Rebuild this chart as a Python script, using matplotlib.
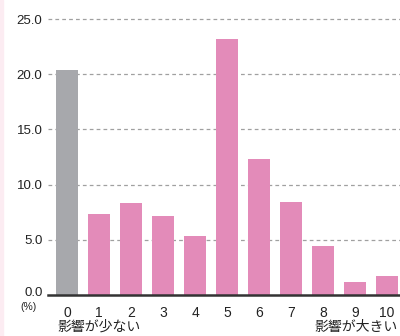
import numpy as np
import matplotlib
matplotlib.use('Agg')
import matplotlib.pyplot as plt
from matplotlib.patches import Rectangle
from matplotlib.transforms import ScaledTranslation

plt.rcParams['font.family'] = ['Liberation Sans', 'Noto Sans CJK JP']

# 影響度スコア別の割合 (%)
scores = ['0', '1', '2', '3', '4', '5', '6', '7', '8', '9', '10']
shares = [20.4, 7.3, 8.3, 7.2, 5.3, 23.2, 12.3, 8.4, 4.4, 1.2, 1.7]
y_ticks = [0, 5, 10, 15, 20, 25]
low_label = '影響が少ない'
high_label = '影響が大きい'

grey = '#a7a8ac'
pink = '#e38bb9'

W, H = 400, 336
fig = plt.figure(figsize=(W / 100, H / 100), dpi=100)

# 左端の淡いピンクの帯
fig.patches.append(Rectangle((0, 0), 3 / W, 1, transform=fig.transFigure,
                             color='#fcecf2', zorder=0))

ax = fig.add_axes([48 / W, (H - 295) / H, (400 - 48) / W, (295 - 8) / H])

x = np.arange(len(scores))
colors = [grey] + [pink] * (len(scores) - 1)
ax.bar(x, shares, width=0.6875, color=colors, zorder=2)

ax.set_xlim(-0.594, 10.406)
ax.set_ylim(0, 26)

ax.set_yticks(y_ticks)
ax.set_yticklabels([f'{v:.1f}' for v in y_ticks], fontsize=9.5, color='#222222')
ax.set_xticks(x)
ax.set_xticklabels(scores, fontsize=10, color='#222222')
ax.tick_params(axis='y', length=0, pad=4)
ax.tick_params(axis='x', length=0, pad=8)

# 0.0 のラベルは基線より少し上に
zero_lbl = ax.get_yticklabels()[0]
zero_lbl.set_transform(zero_lbl.get_transform() + ScaledTranslation(0, 3 / 100, fig.dpi_scale_trans))

for v in y_ticks[1:]:
    ax.axhline(v, color='#a0a0a0', lw=0.9, ls=(0, (3, 2.5)), zorder=1)

for s in ['top', 'right', 'left']:
    ax.spines[s].set_visible(False)
ax.spines['bottom'].set_color('#333333')
ax.spines['bottom'].set_linewidth(1.8)
ax.spines['bottom'].set_zorder(3)

fig.text(29 / W, 1 - 307 / H, '(%)', fontsize=7.5, ha='center', va='center', color='#222222')
fig.text(57 / W, 1 - 327 / H, low_label, fontsize=10, ha='left', va='center', color='#222222')
fig.text(398 / W, 1 - 327 / H, high_label, fontsize=10, ha='right', va='center', color='#222222')

fig.savefig('out.png', dpi=100)
